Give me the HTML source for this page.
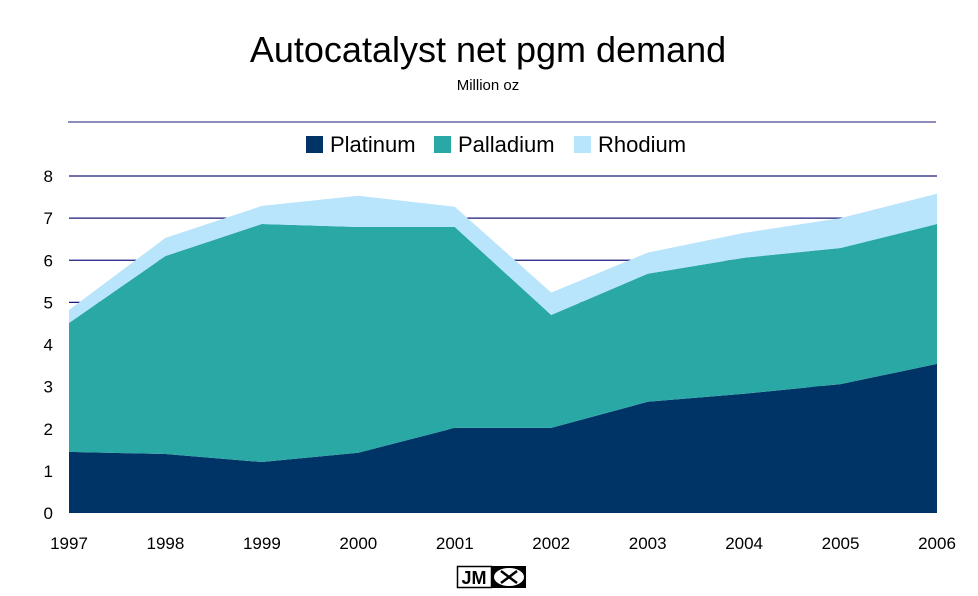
<!DOCTYPE html>
<html><head><meta charset="utf-8"><style>
body{margin:0;background:#fff;width:978px;height:591px;overflow:hidden;font-family:"Liberation Sans",Arial,sans-serif}
</style></head><body>
<svg id="chart" width="978" height="591" xmlns="http://www.w3.org/2000/svg" font-family="Liberation Sans, Arial, sans-serif">
<text x="488" y="62" font-size="36" text-anchor="middle">Autocatalyst net pgm demand</text>
<text x="488" y="90" font-size="15" text-anchor="middle">Million oz</text>
<line x1="68" y1="122" x2="936" y2="122" stroke="#1a1a7a" stroke-width="1"/>
<g id="legend">
<rect x="306" y="136" width="17" height="17" fill="#003366"/>
<text x="330" y="152" font-size="22">Platinum</text>
<rect x="434" y="136" width="17" height="17" fill="#29a8a6"/>
<text x="458" y="152" font-size="22">Palladium</text>
<rect x="574" y="136" width="17" height="17" fill="#b8e4fc"/>
<text x="598" y="152" font-size="22">Rhodium</text>
</g>
<g id="grid"></g><g id="areas"></g><g id="axes"></g>
<g>
<rect x="457.5" y="566.5" width="34" height="21" fill="#fff" stroke="#000" stroke-width="1.5"/>
<text x="474" y="584" font-size="18" font-weight="bold" text-anchor="middle">JM</text>
<rect x="492" y="566" width="34" height="22" fill="#000"/>
<ellipse cx="509" cy="577" rx="15" ry="9" fill="#fff"/>
<path d="M501 571 L517 583 M517 571 L501 583" stroke="#000" stroke-width="2.5"/>
</g>
</svg>
<script>
const years=["1997","1998","1999","2000","2001","2002","2003","2004","2005","2006"];
const platinum=[1.45,1.40,1.21,1.43,2.02,2.02,2.64,2.83,3.06,3.54];
const palladium=[3.06,4.70,5.65,5.36,4.77,2.68,3.04,3.23,3.23,3.32];
const rhodium=[0.31,0.43,0.43,0.74,0.48,0.53,0.50,0.59,0.71,0.72];
const yTicks=[0,1,2,3,4,5,6,7,8];
const NS="http://www.w3.org/2000/svg";
const x0=69,x1=937,yb=513,yt=176,ymax=8;
const xs=i=>x0+(x1-x0)*i/(years.length-1);
const ys=v=>yb-(yb-yt)*v/ymax;
function mk(tag,attrs,parent){const e=document.createElementNS(NS,tag);for(const k in attrs)e.setAttribute(k,attrs[k]);parent.appendChild(e);return e;}
const grid=document.getElementById('grid'),areas=document.getElementById('areas'),axes=document.getElementById('axes');
yTicks.forEach(t=>{
 if(t>0){const l=mk('line',{x1:x0,x2:x1,y1:ys(t),y2:ys(t),stroke:'#1a1a7a','stroke-width':1.3},grid);
 
 }
 const tx=mk('text',{x:53,y:ys(t)+6,'font-size':17,'text-anchor':'end'},axes);tx.textContent=t;
 
 
});
years.forEach((y,i)=>{
 const tx=mk('text',{x:xs(i),y:549,'font-size':17,'text-anchor':'middle'},axes);tx.textContent=y;
 
 
});
const series=[["platinum",platinum,"#003366"],["palladium",palladium,"#29a8a6"],["rhodium",rhodium,"#b8e4fc"]];
let base=years.map(()=>0);
const paths=[];
series.forEach(([name,vals,col])=>{
 const top=base.map((b,i)=>b+vals[i]);
 let d='M'+years.map((_,i)=>xs(i)+','+ys(top[i])).join(' L');
 for(let i=years.length-1;i>=0;i--)d+=' L'+xs(i)+','+ys(base[i]);
 d+='Z';
 paths.push([name,d,col]);
 base=top;
});
paths.reverse().forEach(([name,d,col])=>{});
paths.reverse().forEach(([name,d,col])=>{
 const p=mk('path',{d:d,fill:col},areas);
 
 
});
</script>
</body></html>
